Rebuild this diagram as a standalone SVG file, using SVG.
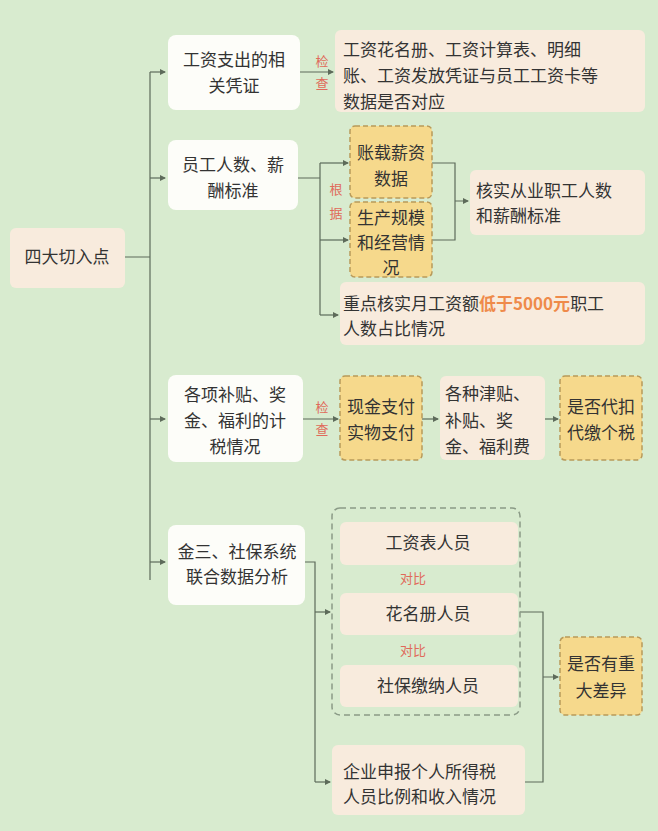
<svg xmlns="http://www.w3.org/2000/svg" width="658" height="831" viewBox="0 0 658 831">
<style>
text{font-family:"Noto Sans CJK SC","Noto Sans",sans-serif;font-size:17px;fill:#333}
.c{text-anchor:middle}
.r{font-size:13px;fill:#e06a5a}
.w{fill:#fdfdf9;stroke:none}
.p{fill:#f8ebdd;stroke:none}
.o{fill:#f6d98c;stroke:#b89a5a;stroke-width:1.5;stroke-dasharray:5 3}
.g{fill:none;stroke:#8a9a86;stroke-width:1.5;stroke-dasharray:6 4}
.l{fill:none;stroke:#5d6b5a;stroke-width:1.2}
</style>
<defs><marker id="a" viewBox="0 0 6 6" refX="5" refY="3" markerWidth="5" markerHeight="5" orient="auto"><path d="M0,0L6,3L0,6z" fill="#5d6b5a"/></marker></defs>
<rect width="658" height="831" fill="#d8ebcf"/>
<g id="connectors" class="l">
<path d="M125,257H150M150,72V580"/>
<path d="M150,72H165" marker-end="url(#a)"/>
<path d="M150,178H165" marker-end="url(#a)"/>
<path d="M150,419H165" marker-end="url(#a)"/>
<path d="M150,562H165" marker-end="url(#a)"/>
<path d="M300,72H333" marker-end="url(#a)"/>
<path d="M298,178H320M320,163V315"/>
<path d="M320,163H348" marker-end="url(#a)"/>
<path d="M320,240H348" marker-end="url(#a)"/>
<path d="M320,315H338" marker-end="url(#a)"/>
<path d="M432,163H455V240H432M455,201H468" marker-end="url(#a)"/>
<path d="M303,419H338" marker-end="url(#a)"/>
<path d="M422,419H438" marker-end="url(#a)"/>
<path d="M545,419H558" marker-end="url(#a)"/>
<path d="M305,562H315V782"/>
<path d="M315,612H330" marker-end="url(#a)"/>
<path d="M315,782H330" marker-end="url(#a)"/>
<path d="M520,612H543V782H525M543,677H558" marker-end="url(#a)"/>
</g>
<g id="root"><rect class="p" x="10" y="228" width="115" height="60" rx="6"/><text class="c" x="67" y="263">四大切入点</text></g>
<g id="n1"><rect class="w" x="168" y="35" width="132" height="75" rx="8"/><text class="c" x="234" y="66">工资支出的相</text><text class="c" x="234" y="92">关凭证</text></g>
<g id="l1"><text class="r c" x="322" y="66">检</text><text class="r c" x="322" y="88">查</text></g>
<g id="n1a"><rect class="p" x="335" y="30" width="310" height="82" rx="6"/><text x="343" y="56">工资花名册、工资计算表、明细</text><text x="343" y="82">账、工资发放凭证与员工工资卡等</text><text x="343" y="108">数据是否对应</text></g>
<g id="n2"><rect class="w" x="168" y="140" width="130" height="70" rx="8"/><text class="c" x="233" y="171">员工人数、薪</text><text class="c" x="233" y="197">酬标准</text></g>
<g id="l2"><text class="r c" x="336" y="194">根</text><text class="r c" x="336" y="218">据</text></g>
<g id="n2a"><rect class="o" x="350" y="126" width="82" height="72" rx="5"/><text class="c" x="391" y="159">账载薪资</text><text class="c" x="391" y="185">数据</text></g>
<g id="n2b"><rect class="o" x="350" y="202" width="82" height="75" rx="5"/><text class="c" x="391" y="224">生产规模</text><text class="c" x="391" y="249">和经营情</text><text class="c" x="391" y="274">况</text></g>
<g id="n2c"><rect class="p" x="470" y="170" width="175" height="65" rx="6"/><text x="476" y="197">核实从业职工人数</text><text x="476" y="222">和薪酬标准</text></g>
<g id="n2d"><rect class="p" x="340" y="282" width="305" height="63" rx="6"/><text x="343" y="310">重点核实月工资额<tspan fill="#ef8a4a" font-weight="bold">低于5000元</tspan>职工</text><text x="343" y="335">人数占比情况</text></g>
<g id="n3"><rect class="w" x="168" y="375" width="135" height="87" rx="8"/><text class="c" x="235" y="401">各项补贴、奖</text><text class="c" x="235" y="427">金、福利的计</text><text class="c" x="235" y="453">税情况</text></g>
<g id="l3"><text class="r c" x="322" y="412">检</text><text class="r c" x="322" y="434">查</text></g>
<g id="n3a"><rect class="o" x="340" y="376" width="82" height="84" rx="5"/><text class="c" x="381" y="413">现金支付</text><text class="c" x="381" y="439">实物支付</text></g>
<g id="n3b"><rect class="p" x="440" y="376" width="105" height="84" rx="6"/><text x="445" y="400">各种津贴、</text><text x="445" y="427">补贴、奖</text><text x="445" y="453">金、福利费</text></g>
<g id="n3c"><rect class="o" x="560" y="376" width="82" height="84" rx="5"/><text class="c" x="601" y="413">是否代扣</text><text class="c" x="601" y="439">代缴个税</text></g>
<g id="n4"><rect class="w" x="168" y="525" width="137" height="80" rx="8"/><text class="c" x="237" y="558">金三、社保系统</text><text class="c" x="237" y="583">联合数据分析</text></g>
<g id="grp"><rect class="g" x="332" y="508" width="188" height="207" rx="8"/></g>
<g id="n4a"><rect class="p" x="340" y="522" width="178" height="43" rx="6"/><text class="c" x="428" y="549">工资表人员</text></g>
<g id="l4a"><text class="r c" x="413" y="583">对比</text></g>
<g id="n4b"><rect class="p" x="340" y="593" width="178" height="42" rx="6"/><text class="c" x="428" y="620">花名册人员</text></g>
<g id="l4b"><text class="r c" x="413" y="655">对比</text></g>
<g id="n4c"><rect class="p" x="340" y="665" width="178" height="42" rx="6"/><text class="c" x="428" y="692">社保缴纳人员</text></g>
<g id="n4d"><rect class="p" x="332" y="745" width="193" height="70" rx="6"/><text x="343" y="778">企业申报个人所得税</text><text x="343" y="803">人员比例和收入情况</text></g>
<g id="n4e"><rect class="o" x="560" y="637" width="82" height="78" rx="5"/><text class="c" x="601" y="670">是否有重</text><text class="c" x="601" y="697">大差异</text></g>
</svg>
